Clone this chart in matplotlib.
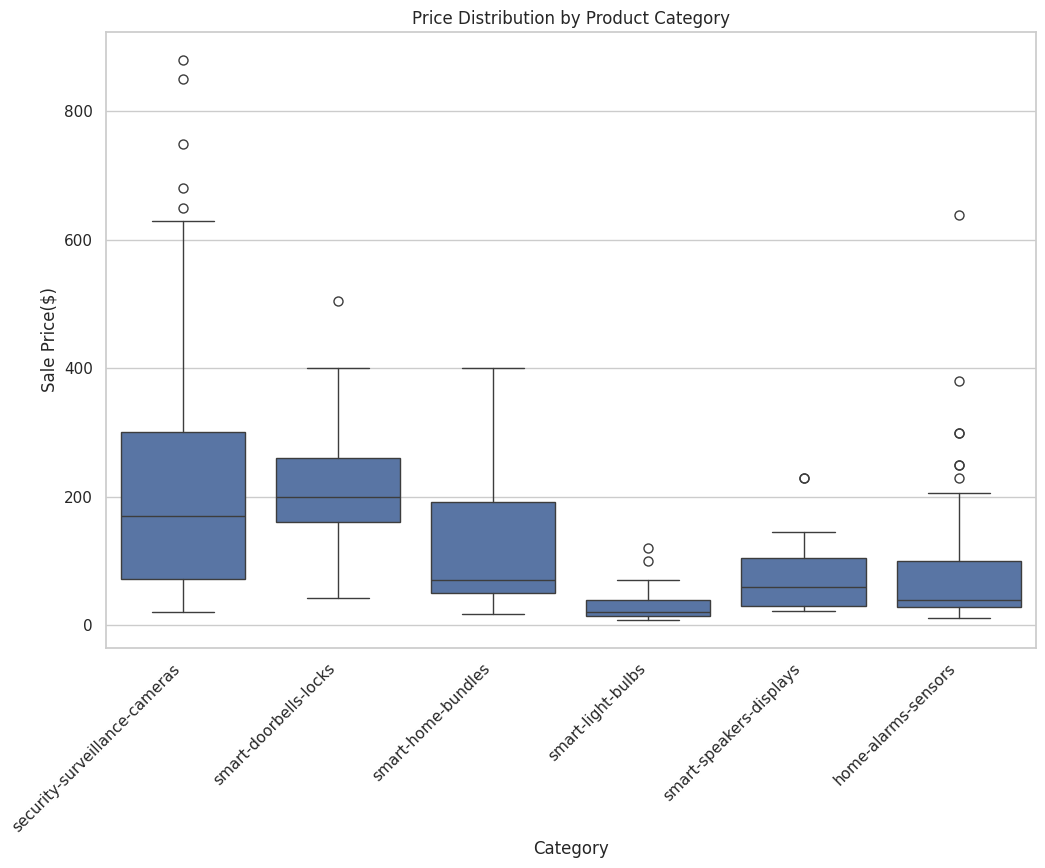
import matplotlib
matplotlib.use("Agg")
import matplotlib.pyplot as plt
import seaborn as sns

sns.set_theme(style="whitegrid")

categories = ["security-surveillance-cameras", "smart-doorbells-locks", "smart-home-bundles",
              "smart-light-bulbs", "smart-speakers-displays", "home-alarms-sensors"]
whisker_low = [20, 42, 17, 8, 22, 11]
q1 = [72, 160, 50, 14, 30, 28]
median = [170, 200, 70, 20, 59, 39]
q3 = [300, 260, 191, 39, 104, 100]
whisker_high = [630, 400, 400, 70, 145, 205]
outliers = [
    [650, 680, 750, 850, 880],
    [504],
    [],
    [100, 120],
    [229, 229],
    [229, 249, 249, 299, 299, 380, 638],
]

stats = []
for i, name in enumerate(categories):
    stats.append({"label": name, "whislo": whisker_low[i], "q1": q1[i], "med": median[i],
                  "q3": q3[i], "whishi": whisker_high[i], "fliers": outliers[i]})

box_color = sns.desaturate(sns.color_palette()[0], 0.75)
line_color = "#3d3d3d"
lw = 1.0

fig = plt.figure(figsize=(10.45, 8.68), dpi=100)
ax = fig.add_axes([0.1014, 0.2535, 0.89, 0.7096])

ax.bxp(stats, positions=range(len(categories)), widths=0.8, patch_artist=True,
       boxprops=dict(facecolor=box_color, edgecolor=line_color, linewidth=lw),
       medianprops=dict(color=line_color, linewidth=lw),
       whiskerprops=dict(color=line_color, linewidth=lw),
       capprops=dict(color=line_color, linewidth=lw),
       flierprops=dict(marker="o", markerfacecolor="none", markeredgecolor=line_color,
                       markersize=6.5, markeredgewidth=lw),
       capwidths=0.4)

ax.set_xlim(-0.5, len(categories) - 0.5)
ax.set_xticks(range(len(categories)))
ax.set_xticklabels(categories, rotation=45, ha="right")
ax.xaxis.grid(False)
ax.set_title("Price Distribution by Product Category")
ax.set_xlabel("Category")
ax.set_ylabel("Sale Price($)")

fig.savefig("out.png", dpi=100)
